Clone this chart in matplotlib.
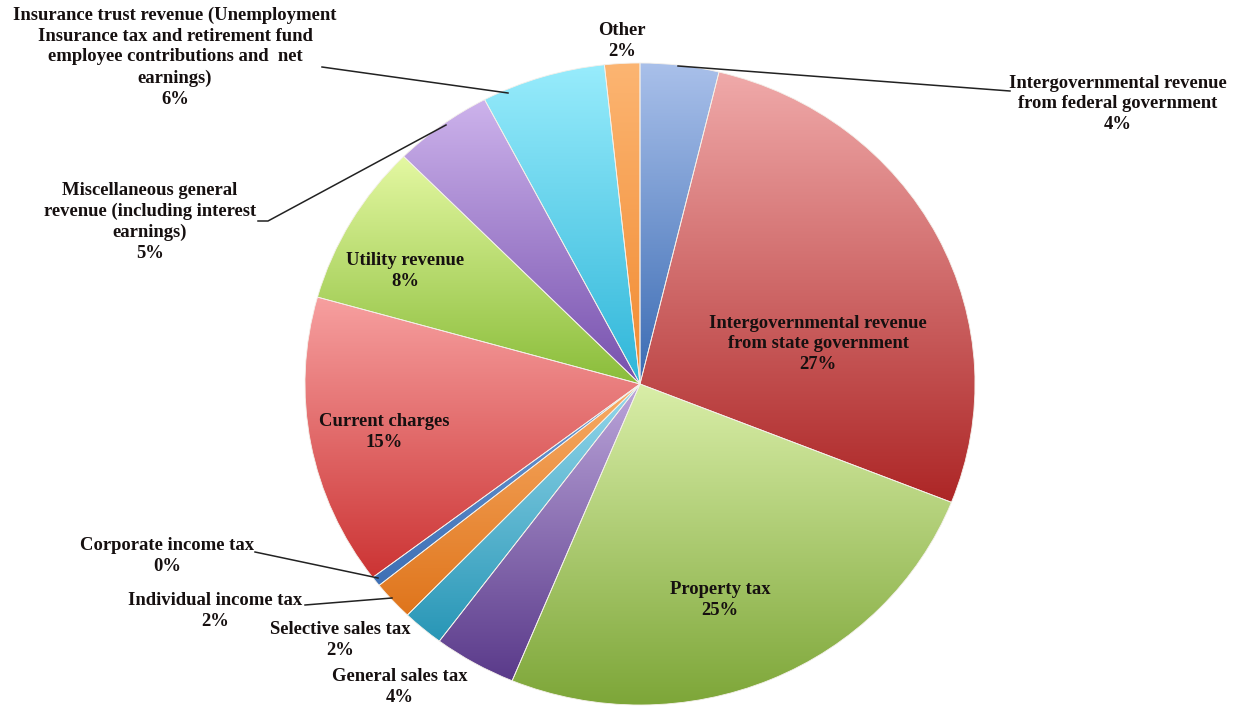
import numpy as np
import matplotlib
matplotlib.use("Agg")
import matplotlib.pyplot as plt
from matplotlib.colors import to_rgb

categories = [
    "Intergovernmental revenue\nfrom federal government",
    "Intergovernmental revenue\nfrom state government",
    "Property tax",
    "General sales tax",
    "Selective sales tax",
    "Individual income tax",
    "Corporate income tax",
    "Current charges",
    "Utility revenue",
    "Miscellaneous general\nrevenue (including interest\nearnings)",
    "Insurance trust revenue (Unemployment\nInsurance tax and retirement fund\nemployee contributions and  net\nearnings)",
    "Other",
]
values = [3.8, 27.3, 25.3, 4.0, 2.0, 2.0, 0.5, 14.7, 8.2, 4.8, 6.0, 1.7]
pct_labels = ["4%", "27%", "25%", "4%", "2%", "2%", "0%", "15%", "8%", "5%", "6%", "2%"]

# (light top colour, dark bottom colour)
colors = [
    ("#a9c0ea", "#3a6bb3"),
    ("#f0aaaa", "#ad2626"),
    ("#d9eea8", "#7da638"),
    ("#bba5da", "#5a3a8a"),
    ("#95d8ec", "#2896b6"),
    ("#f8ac66", "#df751c"),
    ("#6d9ad6", "#3e70b5"),
    ("#f7a0a0", "#cc3434"),
    ("#e4f8a2", "#8abd3a"),
    ("#cdb3ec", "#7650ad"),
    ("#98ecfc", "#2fb6d9"),
    ("#fcb572", "#f18a30"),
]

W, H = 1238, 708
fig = plt.figure(figsize=(W / 100, H / 100), dpi=100)
cx, cy, rx, ry = 640, 384, 335, 321
ax = fig.add_axes([(cx - rx) / W, (H - cy - ry) / H, 2 * rx / W, 2 * ry / H])

wedges, _ = ax.pie(values, startangle=90, counterclock=False, radius=1.0,
                   colors=[c[1] for c in colors],
                   wedgeprops=dict(linewidth=0.6, edgecolor="#f4f0ea"))
ax.set_aspect("auto")
ax.set_xlim(-1, 1)
ax.set_ylim(-1, 1)
ax.axis("off")

# vertical gradient per wedge (light at top, dark at bottom)
for w, (c1, c2) in zip(wedges, colors):
    ext = w.get_path().get_extents()
    y0, y1 = ext.y0, ext.y1
    if y1 - y0 < 1e-6:
        continue
    t = np.linspace(0, 1, 256)[:, None]
    a = np.array(to_rgb(c1)); b = np.array(to_rgb(c2))
    img = (a[None, None, :] * (1 - t[..., None]) + b[None, None, :] * t[..., None])
    img = np.repeat(img, 2, axis=1)
    im = ax.imshow(img, extent=[ext.x0, ext.x1, y0, y1], origin="upper",
                   aspect="auto", zorder=2, interpolation="bilinear")
    im.set_clip_path(w)

for w in wedges:
    w.set_zorder(3)
    w.set_facecolor("none")

ax.set_xlim(-1, 1)
ax.set_ylim(-1, 1)

def px(x, y):
    return x / W, 1 - y / H

font = dict(family=["Liberation Serif", "DejaVu Serif"], weight="bold", fontsize=13.4,
            color="#161010", ha="center", va="center", linespacing=1.3)

# label positions in pixels (centre of text block)
label_pos = [
    (1118, 104), (818, 344), (720, 600), (400, 687), (340, 640),
    (215, 611), (167, 556), (384, 432), (405, 271), (150, 222),
    (175, 57), (622, 41),
]
for cat, pct, (x, y) in zip(categories, pct_labels, label_pos):
    fig.text(*px(x, y), f"{cat}\n{pct}", **font)

# leader lines (pixel coordinates)
leaders = [
    [(678, 66), (1010, 91)],
    [(322, 67), (508, 93)],
    [(258, 221), (268, 221), (446, 125)],
    [(255, 552), (378, 578)],
    [(305, 605), (392, 598)],
]
for pts in leaders:
    xs = [p[0] / W for p in pts]
    ys = [1 - p[1] / H for p in pts]
    fig.add_artist(plt.Line2D(xs, ys, color="#222222", lw=1.1))

fig.savefig("out.png", dpi=100, facecolor="white")
